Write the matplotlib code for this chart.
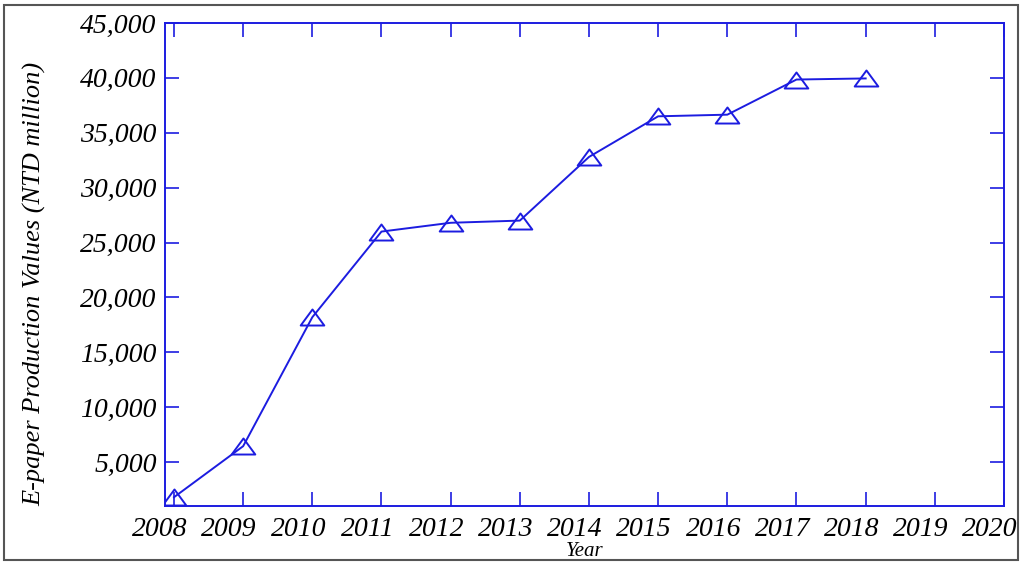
import numpy as np
import matplotlib.pyplot as plt
from matplotlib.patches import Rectangle
from matplotlib.path import Path
import matplotlib.transforms as mtransforms

years = [2008, 2009, 2010, 2011, 2012, 2013, 2014, 2015, 2016, 2017, 2018]
values = [1800, 6450, 18200, 26000, 26800, 27000, 32800, 36500, 36650, 39850, 39950]
xticks = list(range(2008, 2021))
yticks = list(range(5000, 45001, 5000))

blue = '#1c1ce0'
plt.rcParams['font.family'] = ['Liberation Serif', 'DejaVu Serif']
plt.rcParams['font.style'] = 'italic'

fig = plt.figure(figsize=(10.24, 5.68), dpi=100)
ax = fig.add_axes([165 / 1024, 1 - 506 / 568, (1004 - 165) / 1024, (506 - 23) / 568])

# flattened open triangle
tri = Path([(0, 0.68), (-1, -0.68), (1, -0.68), (0, 0.68)],
           [Path.MOVETO, Path.LINETO, Path.LINETO, Path.CLOSEPOLY])
ax.plot(years, values, color=blue, lw=1.4, marker=tri, markersize=17,
        markerfacecolor='none', markeredgecolor=blue, markeredgewidth=1.4)

ax.set_xlim(2007.87, 2020)
ax.set_ylim(1000, 45000)
ax.set_xticks(xticks)
ax.set_yticks(yticks)
ax.set_yticklabels([f'{v:,}' for v in yticks])
ax.tick_params(direction='in', top=True, right=True, length=10, width=1.2,
               color=blue, labelsize=20, pad=6)
ax.tick_params(axis='x', pad=8)
for s in ax.spines.values():
    s.set_color(blue)
    s.set_linewidth(1.4)

off = mtransforms.ScaledTranslation(-14 / 100, 0, fig.dpi_scale_trans)
for lab in ax.get_xticklabels():
    lab.set_transform(lab.get_transform() + off)

ax.set_ylabel('E-paper Production Values (NTD million)', fontsize=19)
ax.yaxis.set_label_coords(-0.141, 0.46)
fig.text(585 / 1024, 1 - 551 / 568, 'Year', fontsize=15, ha='center', va='center')

fig.patches.append(Rectangle((4 / 1024, 1 - 560 / 568), 1014 / 1024, 555 / 568,
                             transform=fig.transFigure, fill=False,
                             edgecolor='#555555', lw=1.5))

fig.savefig('out.png', dpi=100)
